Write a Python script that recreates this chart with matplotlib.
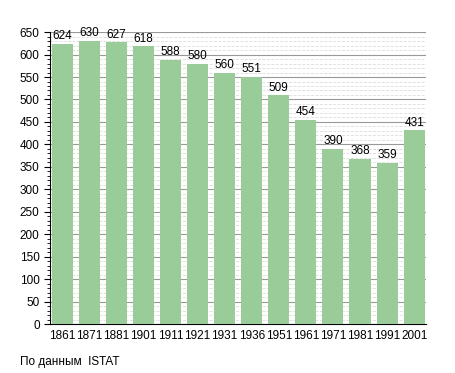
import matplotlib
matplotlib.use("Agg")
import matplotlib.pyplot as plt
from matplotlib.ticker import MultipleLocator

years = ["1861", "1871", "1881", "1901", "1911", "1921", "1931",
         "1936", "1951", "1961", "1971", "1981", "1991", "2001"]
population = [624, 630, 627, 618, 588, 580, 560, 551, 509, 454, 390, 368, 359, 431]

plt.rcParams["font.family"] = ["Liberation Sans", "DejaVu Sans"]

fig = plt.figure(figsize=(4.55, 3.73), dpi=100)
ax = fig.add_axes([0.11, 0.131, 0.827, 0.783])

x = range(len(years))
ax.bar(x, population, width=0.78, color="#99cc99", zorder=3)
for i, v in zip(x, population):
    ax.text(i, v + 4, str(v), ha="center", va="bottom", fontsize=8.5, zorder=4)

ax.set_xlim(-0.45, len(years) - 0.55)
ax.set_ylim(0, 650)
ax.set_xticks(list(x))
ax.set_xticklabels(years)
ax.yaxis.set_major_locator(MultipleLocator(50))
ax.yaxis.set_minor_locator(MultipleLocator(10))
ax.grid(axis="y", which="major", color="#999999", linewidth=0.8, zorder=0)
ax.grid(axis="y", which="minor", color="#dddddd", linewidth=0.6, linestyle="--", zorder=0)

for side in ["top", "right"]:
    ax.spines[side].set_visible(False)
ax.tick_params(axis="x", length=0, labelsize=8.5, pad=4)
ax.tick_params(axis="y", which="major", length=4, labelsize=8.5)
ax.tick_params(axis="y", which="minor", length=2)

fig.text(0.044, 0.022, "По данным  ISTAT", fontsize=8.5)

fig.savefig("out.png", dpi=100)
